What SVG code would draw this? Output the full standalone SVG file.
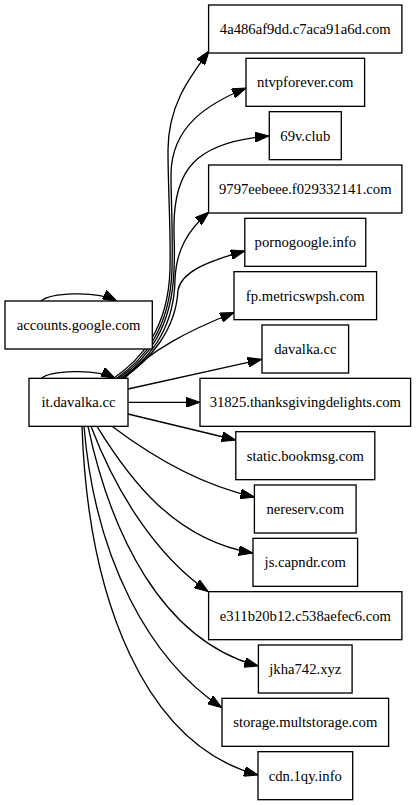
<svg xmlns="http://www.w3.org/2000/svg" width="416" height="805" viewBox="0 0 416 805">
<style>
.n rect{fill:#fff;stroke:#000;stroke-width:1.33}
.n text{font-family:"Liberation Serif","Times New Roman",serif;font-size:14.67px;text-anchor:middle;fill:#000}
.e path{fill:none;stroke:#000;stroke-width:1.33;marker-end:url(#ah)}
</style>
<defs>
<marker id="ah" markerUnits="userSpaceOnUse" markerWidth="14" markerHeight="10" viewBox="0 0 13.33 9.33" refX="13.33" refY="4.67" orient="auto"><path d="M0,0 L13.33,4.67 L0,9.33 z" fill="#000" stroke="#000" stroke-width="1"/></marker>
</defs>
<rect width="416" height="805" fill="#fff"/>
<g id="edges" class="e">
<path d="M41,301 C50,293 95,290 116.7,301"/>
<path d="M41.7,378.3 C50,371 95,368 115,378.3"/>
<path d="M114,378 C140,360 168,330 170,270 C171,230 168,190 168,150 C168,105 190,77 209,51"/>
<path d="M117,378 C143,360 170,330 172,270 C173,230 171,200 171,175 C171,125 210,103 246,88"/>
<path d="M119,378 C146,360 172,330 174,270 C175,250 174,240 174,230 C173,170 195,142 269,136"/>
<path d="M121,378 C148,360 174,330 175,280 C176,250 188,230 209,212"/>
<path d="M123,378 C150,360 176,330 178,290 C182,272 205,262 244.7,251"/>
<path d="M125,378 C150,350 190,330 234,312.5"/>
<path d="M128,389 L261.7,359.3"/>
<path d="M128,402.3 L200,402.3"/>
<path d="M128,414 L235.7,440"/>
<path d="M112,426.3 C150,455 200,485 254.3,497"/>
<path d="M97,426.3 C130,480 175,540 252.7,553"/>
<path d="M91,426.3 C115,490 155,555 208.3,591.7"/>
<path d="M88,426.3 C110,530 160,640 258.3,666"/>
<path d="M84,426.3 C95,560 150,660 221.7,707.5"/>
<path d="M82,426.3 C88,600 145,745 258,775"/>
</g>
<g id="n_4a486" class="n"><rect x="208.6" y="5" width="193.3" height="48"/><text x="305.3" y="34">4a486af9dd.c7aca91a6d.com</text></g>
<g id="n_ntvp" class="n"><rect x="246" y="58.33" width="118.6" height="48"/><text x="305.3" y="87.3">ntvpforever.com</text></g>
<g id="n_69v" class="n"><rect x="269.3" y="111.67" width="72" height="48"/><text x="305.3" y="140.7">69v.club</text></g>
<g id="n_9797" class="n"><rect x="208.6" y="165" width="193.3" height="48"/><text x="305.3" y="194">9797eebeee.f029332141.com</text></g>
<g id="n_porno" class="n"><rect x="244.8" y="218.33" width="121" height="48"/><text x="305.3" y="247.3">pornogoogle.info</text></g>
<g id="n_fp" class="n"><rect x="234" y="271.67" width="142.6" height="48"/><text x="305.3" y="300.7">fp.metricswpsh.com</text></g>
<g id="n_davalka" class="n"><rect x="262" y="325" width="86.6" height="48"/><text x="305.3" y="354">davalka.cc</text></g>
<g id="n_31825" class="n"><rect x="200" y="378.33" width="210.6" height="48"/><text x="305.3" y="407.3">31825.thanksgivingdelights.com</text></g>
<g id="n_static" class="n"><rect x="235.8" y="431.67" width="139" height="48"/><text x="305.3" y="460.7">static.bookmsg.com</text></g>
<g id="n_nereserv" class="n"><rect x="254.4" y="485" width="101.7" height="48"/><text x="305.3" y="514">nereserv.com</text></g>
<g id="n_js" class="n"><rect x="253" y="538.33" width="104.6" height="48"/><text x="305.3" y="567.3">js.capndr.com</text></g>
<g id="n_e311" class="n"><rect x="208.6" y="591.67" width="193.3" height="48"/><text x="305.3" y="620.7">e311b20b12.c538aefec6.com</text></g>
<g id="n_jkha" class="n"><rect x="258.4" y="645" width="93.7" height="48"/><text x="305.3" y="674">jkha742.xyz</text></g>
<g id="n_storage" class="n"><rect x="222" y="698.33" width="166.6" height="48"/><text x="305.3" y="727.3">storage.multstorage.com</text></g>
<g id="n_cdn" class="n"><rect x="258" y="751.67" width="94.7" height="48"/><text x="305.3" y="780.7">cdn.1qy.info</text></g>
<g id="n_accounts" class="n"><rect x="5" y="301" width="147.3" height="48"/><text x="78.6" y="330">accounts.google.com</text></g>
<g id="n_it" class="n"><rect x="29" y="378.33" width="99" height="48"/><text x="78.5" y="407.3">it.davalka.cc</text></g>
</svg>
